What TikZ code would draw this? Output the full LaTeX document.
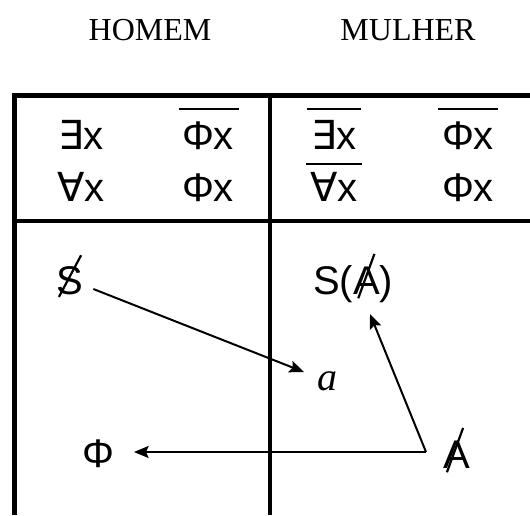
\documentclass[tikz,border=0pt]{standalone}
\usepackage{fontspec}
\usepackage{graphicx}
\setmainfont{Liberation Serif}
\newfontfamily\sansf{Liberation Sans}
\newfontfamily\djv{DejaVu Sans}
\usetikzlibrary{arrows.meta,calc}
\newcommand{\strk}[3]{\ooalign{#3\cr\hidewidth\makebox[0pt]{\kern#1\raisebox{0.42em}{\rotatebox[origin=c]{#2}{\rule{1.18em}{0.055em}}}\kern-#1}\hidewidth\cr}}
\begin{document}
\begin{tikzpicture}[x=0.75pt,y=-0.75pt,
  every node/.style={inner sep=0pt, outer sep=0pt, anchor=base},
  hdr/.style={font=\fontsize{24}{28}\selectfont},
  frm/.style={font=\sansf\fontsize{30}{36}\selectfont},
  ital/.style={font=\itshape\fontsize{30}{36}\selectfont},
  ovl/.style={line width=2.2pt},
  arr/.style={line width=1.5pt,-{Stealth[length=11pt,width=9pt,inset=2pt]}}]
\useasboundingbox (0,0) rectangle (530,515);
\fill[white] (0,0) rectangle (530,515);
% table
\draw[line width=3.8pt, line join=miter] (530,95.5) -- (14.5,95.5) -- (14.5,515);
\draw[line width=3.2pt] (14.5,221) -- (530,221);
\draw[line width=2.7pt] (270,95.5) -- (270,515);
% headers
\node[hdr] (homem) at (150,40) {HOMEM};
\node[hdr] (mulher) at (408,40) {MULHER};
% formulas
\node[frm] (e1) at (81,149) {{\djv ∃}x};
\node[frm] (p1) at (208,149) {Φx};
\node[frm] (e2) at (334,149) {{\djv ∃}x};
\node[frm] (p2) at (468,149) {Φx};
\node[frm] (a1) at (81,201) {{\djv ∀}x};
\node[frm] (p3) at (208,201) {Φx};
\node[frm] (a2) at (334,201) {{\djv ∀}x};
\node[frm] (p4) at (468,201) {Φx};
\coordinate (ovA) at (0,109);
\coordinate (ovB) at (0,164);
\draw[ovl] ($(p1.west |- ovA)+(-3,0)$) -- ($(p1.east |- ovA)+(5,0)$);
\draw[ovl] ($(e2.west |- ovA)+(-4,0)$) -- ($(e2.east |- ovA)+(4,0)$);
\draw[ovl] ($(p2.west |- ovA)+(-4,0)$) -- ($(p2.east |- ovA)+(4,0)$);
\draw[ovl] ($(a2.west |- ovB)+(-4,0)$) -- ($(a2.east |- ovB)+(4,0)$);
% lower part
\node[frm] (bs) at (70,294) {\strk{0em}{62}{S}};
\node[frm] (sa) at (353,294) {S(\strk{0em}{70}{A})};
\node[ital] (oa) at (327,390) {a};
\node[frm] (ph) at (98,467) {Φ};
\node[frm] (ba) at (457,468) {\strk{-0.05em}{70}{A}};
\coordinate (crn) at ($(ba.base)+(-31,-16)$);
\draw[arr] ($(bs.base east)+(10,-5)$) -- ($(oa.base west)+(-13,-18)$);
\draw[arr] (crn) -- ($(sa.base)+(17,20)$);
\draw[arr] (crn) -- ($(ph.base east)+(20,-15)$);
\end{tikzpicture}
\end{document}
